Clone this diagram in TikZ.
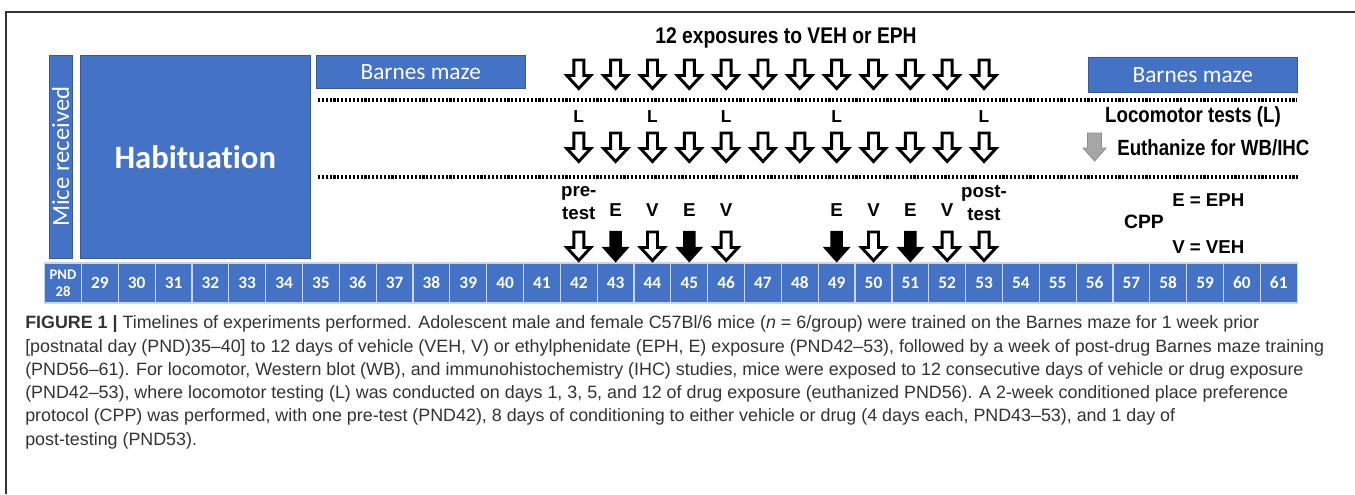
\documentclass[tikz,border=0pt]{standalone}
\usepackage{fontspec}
\setmainfont{Liberation Sans}
\newfontfamily\calfont[Ligatures=NoCommon]{Carlito}
\newfontfamily\narrowfont[FakeStretch=0.85]{Liberation Sans}
\definecolor{obl}{HTML}{4472C4}
\definecolor{captxt}{HTML}{333333}
\tikzset{
  bluebox/.style={fill=obl, draw=obl!80!black, line width=0.4pt, inner sep=0pt, text=white},
  cell/.style={fill=obl, draw=white!70!obl, line width=0.9pt, minimum width=36.84*0.75pt,
               minimum height=40*0.75pt, inner sep=0pt, text=white,
               font=\calfont\bfseries\fontsize{13}{13}\selectfont},
  dotline/.style={line width=2.3pt, dash pattern=on 1.6pt off 1.3pt},
  lbl/.style={font=\bfseries\fontsize{13}{15}\selectfont, inner sep=0pt},
  cptline/.style={anchor=base west, inner sep=0pt, text=captxt, font=\fontsize{13.4}{15}\selectfont},
  pics/hollowarr/.style={code={
    \draw[line width=2.2pt, fill=white, line join=miter]
      (-5,0) -- (5,0) -- (5,15.5) -- (12,15.5) -- (0,28.5) -- (-12,15.5) -- (-5,15.5) -- cycle;}},
  pics/fillarr/.style={code={
    \fill[black]
      (-6.3,-1.2) -- (6.3,-1.2) -- (6.3,14.8) -- (14,14.8) -- (0,30.5) -- (-14,14.8) -- (-6.3,14.8) -- cycle;}},
  pics/grayarr/.style={code={
    \draw[fill=black!35, draw=black!45, line width=0.6pt]
      (-7,0) -- (7,0) -- (7,15) -- (11.5,15) -- (0,28) -- (-11.5,15) -- (-7,15) -- cycle;}}
}
\begin{document}
\begin{tikzpicture}[x=0.75pt,y=-0.75pt]
\useasboundingbox (0,0) rectangle (1355,494);
\draw[line width=1pt, black!80] (6,494) -- (6,12) -- (1355,12);

% blue boxes
\node[bluebox, anchor=north west, minimum width=23*0.75pt, minimum height=203*0.75pt] (mice) at (49,55)
  {\rotatebox{90}{\calfont\fontsize{18.5}{18}\selectfont Mice received}};
\node[bluebox, anchor=north west, minimum width=230*0.75pt, minimum height=203*0.75pt] (hab) at (80,55)
  {\calfont\bfseries\fontsize{24.5}{26}\selectfont Habituation};
\node[bluebox, anchor=north west, minimum width=209*0.75pt, minimum height=33*0.75pt] (bm1) at (316,55)
  {\calfont\fontsize{17.5}{18}\selectfont Barnes maze};
\node[bluebox, anchor=north west, minimum width=209*0.75pt, minimum height=35*0.75pt] (bm2) at (1088,57)
  {\calfont\fontsize{17.5}{18}\selectfont Barnes maze};

% timeline cells
\node[cell, font=\calfont\bfseries\fontsize{11}{12.5}\selectfont, align=center] (d28) at ({44.6+0.5*36.84},283) {PND\\28};
\foreach \i in {1,...,33}{
  \pgfmathtruncatemacro\d{28+\i}
  \node[cell] (d\d) at ({44.6+(\i+0.5)*36.84},283) {\d};
}

% row coordinates
\coordinate (rowA) at (0,60);
\coordinate (rowL) at (0,117);
\coordinate (rowB) at (0,133);
\coordinate (rowT) at (0,210);
\coordinate (rowC) at (0,232);

% title
\node[font=\narrowfont\bfseries\fontsize{17}{18}\selectfont] (title) at (786,38) {12 exposures to VEH or EPH};

% top row arrows
\foreach \d in {42,...,53}{ \pic at (d\d |- rowA) {hollowarr}; }

% dotted separators
\coordinate (dl1a) at (318,100); \coordinate (dl1b) at (1297,100);
\coordinate (dl2a) at (318,177); \coordinate (dl2b) at (1300,177);
\draw[dotline] (dl1a) -- (dl1b);
\draw[dotline] (dl2a) -- (dl2b);

% locomotor row
\foreach \d in {42,44,46,49,53}{ \node[lbl] (L\d) at (d\d |- rowL) {L}; }
\foreach \d in {42,...,53}{ \pic at (d\d |- rowB) {hollowarr}; }
\node[font=\narrowfont\bfseries\fontsize{16.5}{18}\selectfont] (loco) at (1193,117) {Locomotor tests (L)};
\pic at (d56 |- rowB) {grayarr};
\node[anchor=west, inner sep=0pt, font=\narrowfont\bfseries\fontsize{16.5}{18}\selectfont] (euth) at (1117,148) {Euthanize for WB/IHC};

% CPP row
\node[align=center, inner sep=0pt, font=\bfseries\fontsize{14}{17.5}\selectfont] (pre) at (d42 |- 0,203) {pre-\\test};
\node[align=center, inner sep=0pt, font=\bfseries\fontsize{14}{17.5}\selectfont] (post) at (d53 |- 0,203) {post-\\test};
\foreach \d in {43,45,49,51}{ \node[lbl, font=\bfseries\fontsize{14}{15}\selectfont] (E\d) at (d\d |- rowT) {E}; }
\foreach \d in {44,46,50,52}{ \node[lbl, font=\bfseries\fontsize{14}{15}\selectfont] (V\d) at (d\d |- rowT) {V}; }
\foreach \d in {43,45,49,51}{ \pic at (d\d |- rowC) {fillarr}; }
\foreach \d in {42,44,46,50,52,53}{ \pic at (d\d |- rowC) {hollowarr}; }
\node[anchor=west, inner sep=0pt, font=\bfseries\fontsize{14}{15}\selectfont] (eeph) at (1172,200) {E = EPH};
\node[inner sep=0pt, font=\bfseries\fontsize{14.5}{15}\selectfont] (cpp) at (1144,222) {CPP};
\node[anchor=west, inner sep=0pt, font=\bfseries\fontsize{14}{15}\selectfont] (vveh) at (1172,247) {V = VEH};

% caption
\node[cptline] (c1) at (25,328) {\textbf{FIGURE 1 |} Timelines of experiments performed. Adolescent male and female C57Bl/6 mice (\textit{n} = 6/group) were trained on the Barnes maze for 1 week prior};
\node[cptline] (c2) at (25,352) {[postnatal day (PND)35–40] to 12 days of vehicle (VEH, V) or ethylphenidate (EPH, E) exposure (PND42–53), followed by a week of post-drug Barnes maze training};
\node[cptline] (c3) at (25,375) {(PND56–61). For locomotor, Western blot (WB), and immunohistochemistry (IHC) studies, mice were exposed to 12 consecutive days of vehicle or drug exposure};
\node[cptline] (c4) at (25,398) {(PND42–53), where locomotor testing (L) was conducted on days 1, 3, 5, and 12 of drug exposure (euthanized PND56). A 2-week conditioned place preference};
\node[cptline] (c5) at (25,421) {protocol (CPP) was performed, with one pre-test (PND42), 8 days of conditioning to either vehicle or drug (4 days each, PND43–53), and 1 day of};
\node[cptline] (c6) at (25,445) {post-testing (PND53).};
\end{tikzpicture}
\end{document}
